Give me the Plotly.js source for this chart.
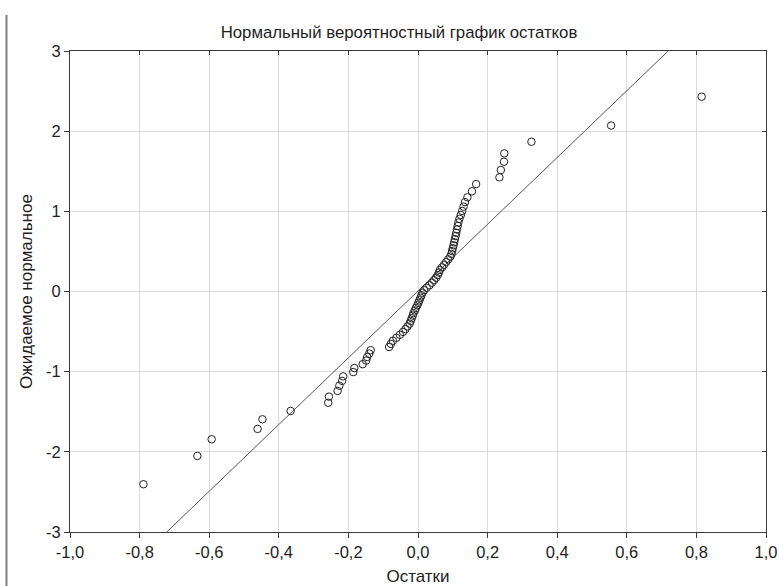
<!DOCTYPE html>
<html>
<head>
<meta charset="utf-8">
<script src="https://cdn.plot.ly/plotly-3.0.1.min.js"></script>
<style>
html, body { margin: 0; padding: 0; background: #ffffff; }
#chart { width: 779px; height: 586px; }
</style>
</head>
<body>
<div id="chart"></div>
<script>
// Residuals (x) and expected normal values (y)
var residuals = [
  -0.789, -0.634, -0.593, -0.461, -0.447, -0.366,
  -0.258, -0.256, -0.231, -0.226, -0.218, -0.215, -0.186, -0.183, -0.159, -0.149,
  -0.146, -0.140, -0.136, -0.083, -0.078, -0.072, -0.062, -0.052, -0.043, -0.036,
  -0.030, -0.024, -0.021, -0.018, -0.015, -0.013, -0.009, -0.006, -0.002, 0.001,
  0.004, 0.007, 0.010, 0.013, 0.018, 0.025, 0.033, 0.040, 0.046, 0.052,
  0.057, 0.060, 0.063, 0.069, 0.075, 0.081, 0.087, 0.093, 0.096, 0.098,
  0.100, 0.102, 0.104, 0.106, 0.108, 0.110, 0.112, 0.114, 0.116, 0.119,
  0.123, 0.127, 0.131, 0.135, 0.142, 0.155, 0.167,
  0.234, 0.238, 0.247, 0.248, 0.326, 0.555, 0.815
];
var expectedNormal = [
  -2.404, -2.051, -1.843, -1.714, -1.594, -1.490,
  -1.388, -1.311, -1.240, -1.175, -1.115, -1.059, -1.005, -0.955, -0.907, -0.861,
  -0.817, -0.774, -0.732, -0.692, -0.653, -0.614, -0.577, -0.540, -0.504, -0.469,
  -0.435, -0.401, -0.367, -0.334, -0.301, -0.269, -0.237, -0.205, -0.172, -0.141,
  -0.110, -0.078, -0.047, -0.016, 0.016, 0.047, 0.078, 0.110, 0.141, 0.172,
  0.205, 0.237, 0.269, 0.301, 0.334, 0.367, 0.401, 0.435, 0.469, 0.504,
  0.540, 0.577, 0.614, 0.653, 0.692, 0.732, 0.774, 0.817, 0.861, 0.907,
  0.955, 1.005, 1.059, 1.115, 1.175, 1.250, 1.340,
  1.424, 1.515, 1.619, 1.723, 1.868, 2.070, 2.430
];
// Reference line end points
var lineX = [-0.722, 0.719];
var lineY = [-3, 3];

// Tick labels
var xTickVals = [-1.0, -0.8, -0.6, -0.4, -0.2, 0.0, 0.2, 0.4, 0.6, 0.8, 1.0];
var xTickText = ["-1,0", "-0,8", "-0,6", "-0,4", "-0,2", "0,0", "0,2", "0,4", "0,6", "0,8", "1,0"];
var yTickVals = [-3, -2, -1, 0, 1, 2, 3];
var yTickText = ["-3", "-2", "-1", "0", "1", "2", "3"];

var titleText = "Нормальный вероятностный график остатков";
var xTitle = "Остатки";
var yTitle = "Ожидаемое нормальное";

var fontFam = "Liberation Sans, Arial, sans-serif";
var axisColor = "#3a3a3a";
var gridColor = "#dcdcdc";
var textColor = "#1e1e1e";

var traces = [
  {
    x: lineX, y: lineY, type: "scatter", mode: "lines",
    line: { color: "#555555", width: 1 },
    hoverinfo: "skip", showlegend: false
  },
  {
    x: residuals, y: expectedNormal, type: "scatter", mode: "markers",
    marker: { symbol: "circle-open", size: 7.5, color: "#222222", line: { width: 1, color: "#222222" } },
    showlegend: false
  },
  {
    x: [null], y: [null], xaxis: "x2", yaxis: "y2", type: "scatter", mode: "markers",
    showlegend: false, hoverinfo: "skip"
  }
];

var layout = {
  width: 779, height: 586,
  margin: { l: 70, r: 13, t: 51, b: 54, pad: 0 },
  paper_bgcolor: "#ffffff", plot_bgcolor: "#ffffff",
  font: { family: fontFam, size: 16, color: textColor },
  title: {
    text: titleText,
    font: { family: fontFam, size: 16.8, color: textColor },
    x: 399 / 779, xref: "container", xanchor: "center",
    y: 1 - 32 / 586, yref: "container", yanchor: "middle"
  },
  xaxis: {
    range: [-1, 1], tickvals: xTickVals, ticktext: xTickText,
    showgrid: true, gridcolor: gridColor, gridwidth: 1,
    zeroline: false, showline: true, linecolor: axisColor, linewidth: 1,
    mirror: true, ticks: "outside", ticklen: 5, tickcolor: axisColor,
    tickfont: { family: fontFam, size: 16.5, color: textColor },
    title: { text: xTitle, font: { family: fontFam, size: 17, color: textColor }, standoff: 10 }
  },
  yaxis: {
    range: [-3, 3], tickvals: yTickVals, ticktext: yTickText,
    showgrid: true, gridcolor: gridColor, gridwidth: 1,
    zeroline: false, showline: true, linecolor: axisColor, linewidth: 1,
    mirror: true, ticks: "outside", ticklen: 5, tickcolor: axisColor,
    tickfont: { family: fontFam, size: 16.5, color: textColor },
    title: { text: yTitle, font: { family: fontFam, size: 17, color: textColor }, standoff: 9 }
  },
  xaxis2: {
    overlaying: "x", side: "top", range: [-1, 1], tickvals: xTickVals,
    showticklabels: false, showgrid: false, zeroline: false, showline: false,
    ticks: "inside", ticklen: 4, tickcolor: axisColor
  },
  yaxis2: {
    overlaying: "y", side: "right", range: [-3, 3], tickvals: yTickVals,
    showticklabels: false, showgrid: false, zeroline: false, showline: false,
    ticks: "inside", ticklen: 4, tickcolor: axisColor
  },
  shapes: [
    {
      type: "line", xref: "paper", yref: "paper",
      x0: -63.5 / 696, x1: -63.5 / 696,
      y0: (532 - 586) / 481, y1: (532 - 15) / 481,
      line: { color: "#808080", width: 2 }
    }
  ]
};

Plotly.newPlot("chart", traces, layout, { displayModeBar: false, staticPlot: true });
</script>
</body>
</html>
